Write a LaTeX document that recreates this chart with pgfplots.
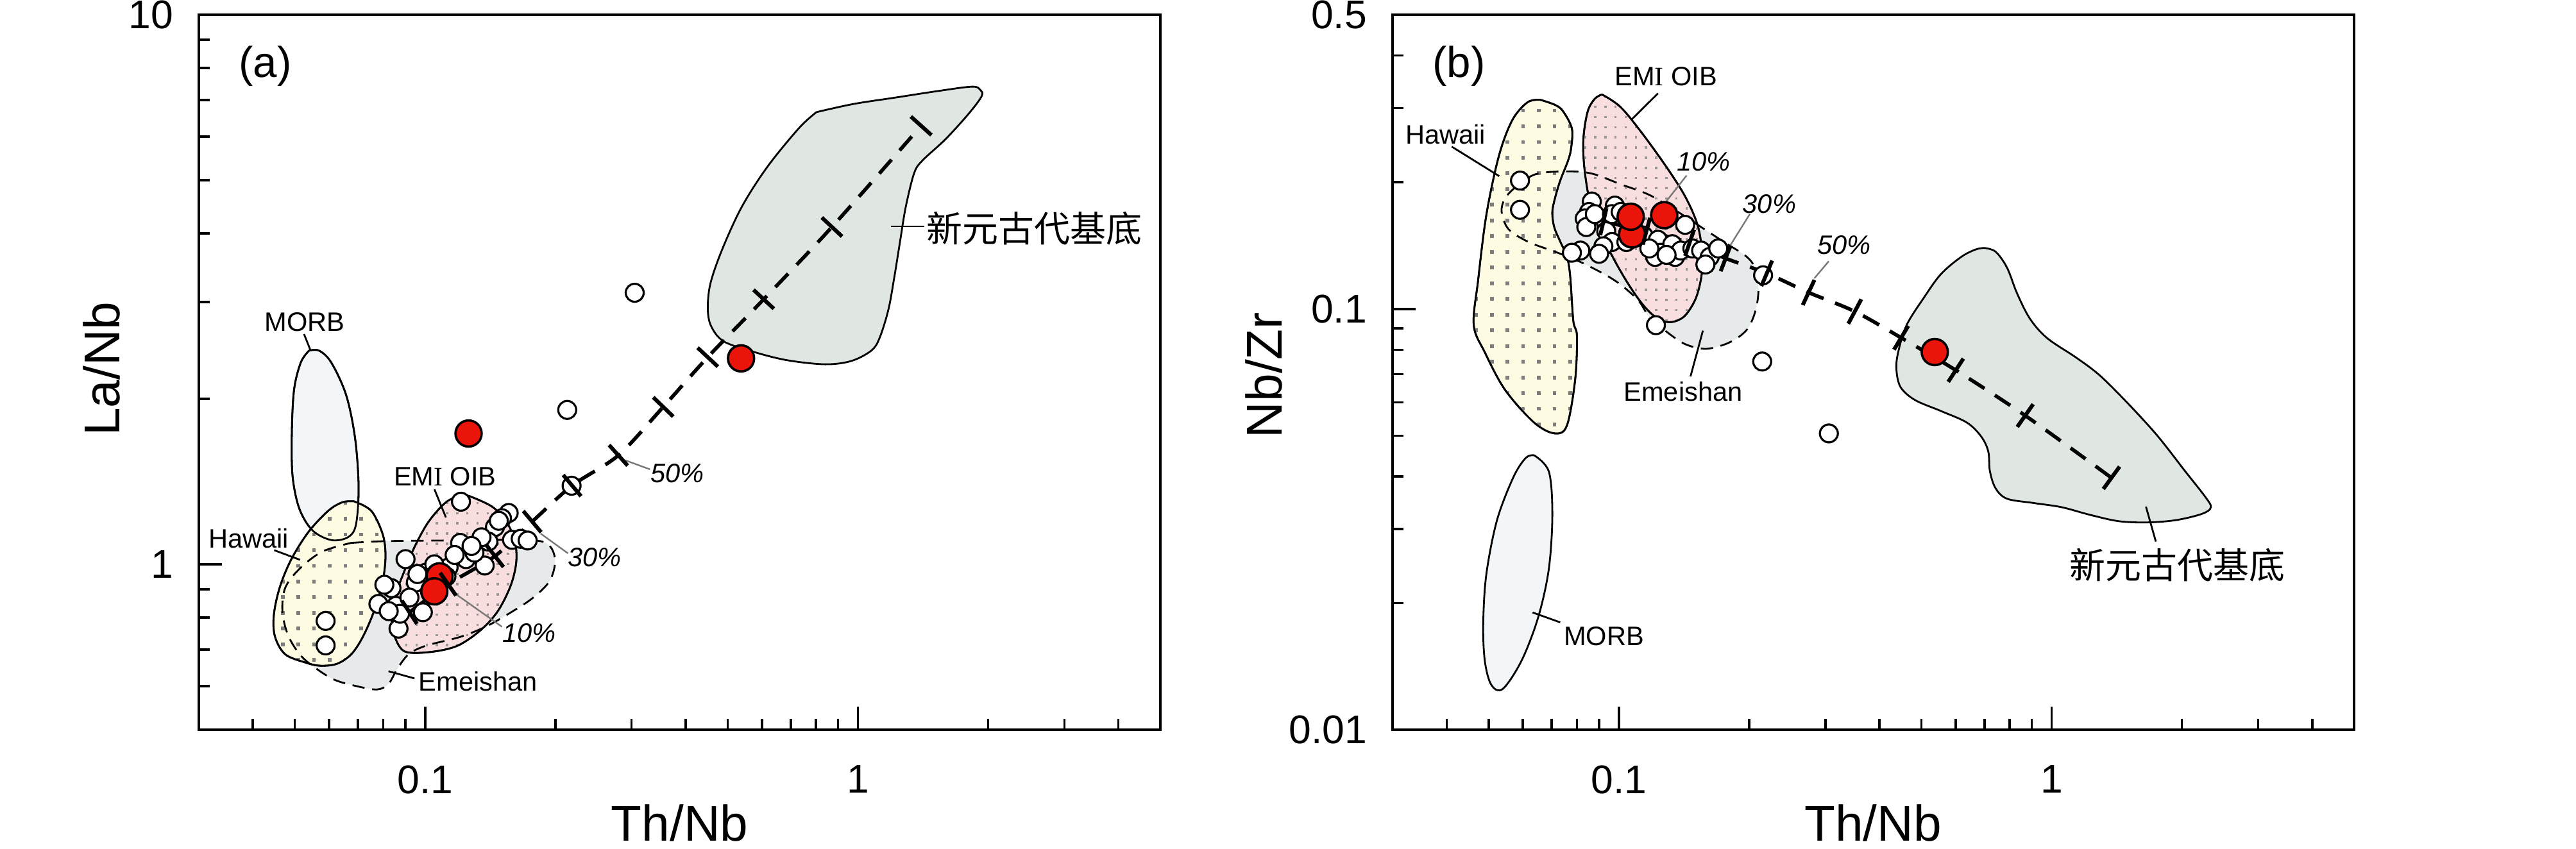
\documentclass[border=0pt]{standalone}
\usepackage{fontspec}
\setmainfont{Liberation Sans}
\newfontfamily\cjk{Noto Sans CJK SC}
\newfontfamily\serifI{Liberation Serif}
\usepackage{pgfplots}
\pgfplotsset{compat=1.18}
\usetikzlibrary{patterns}

\pgfdeclarepatternformonly{hawdots}{\pgfqpoint{-0.5pt}{-0.5pt}}{\pgfqpoint{0.5pt}{0.5pt}}{\pgfqpoint{3.06pt}{3.06pt}}{\pgfpathrectangle{\pgfqpoint{-0.36pt}{-0.36pt}}{\pgfqpoint{0.72pt}{0.72pt}}\pgfusepath{fill}}
\pgfdeclarepatternformonly{emidots}{\pgfqpoint{-0.5pt}{-0.5pt}}{\pgfqpoint{0.5pt}{0.5pt}}{\pgfqpoint{1.98pt}{1.98pt}}{\pgfpathrectangle{\pgfqpoint{-0.22pt}{-0.22pt}}{\pgfqpoint{0.44pt}{0.44pt}}\pgfusepath{fill}}

\definecolor{myred}{RGB}{235,20,10}
\definecolor{basefill}{RGB}{224,230,226}
\definecolor{emeifill}{RGB}{230,234,235}
\definecolor{morbfill}{RGB}{242,246,248}
\definecolor{hawfill}{RGB}{253,251,225}
\definecolor{emifill}{RGB}{248,222,222}
\definecolor{hawdot}{RGB}{125,125,125}
\definecolor{emidot}{RGB}{150,150,150}
\definecolor{leadgray}{RGB}{120,120,120}

\newcommand{\lab}{\fontsize{5.2}{6}\selectfont}
\newcommand{\pct}{\fontsize{5.2}{6}\selectfont\itshape}

\begin{document}
\begin{tikzpicture}
\path[use as bounding box] (0,0) rectangle (502pt,165.375pt);

% ---------------- (a) ----------------
\begin{axis}[at={(38.75pt,23.125pt)}, anchor=south west,
    scale only axis, width=187.375pt, height=139.375pt,
    xmode=log, ymode=log, xmin=0.03, xmax=5,
    clip=false,
    axis line style={line width=0.5pt},
    tick align=inside,
    major tick length=4.5pt, minor tick length=2.1pt,
    tick style={black, line width=0.45pt},
    xtick pos=left, ytick pos=left,
    xtick={0.1,1}, xticklabels={0.1,1},
    minor xtick={0.04,0.05,0.06,0.07,0.08,0.09,0.2,0.3,0.4,0.5,0.6,0.7,0.8,0.9,2,3,4},
    tick label style={font=\fontsize{7.8}{9}\selectfont},
    xticklabel shift=3.4pt, yticklabel shift=1.5pt,
  ymin=0.5, ymax=10, ytick={1,10}, yticklabels={1,10},
  minor ytick={0.6,0.7,0.8,0.9,2,3,4,5,6,7,8,9}]

% Emeishan fill
\addplot[smooth, tension=0.55, draw=none, fill=emeifill] coordinates {
(0.0675,1.094) (0.0811,1.102) (0.110,1.105) (0.1494,1.108) (0.1822,1.104) (0.1952,1.074) (0.1997,1.009) (0.1937,0.931) (0.1768,0.867) (0.1564,0.814) (0.1384,0.771) (0.1206,0.738) (0.1004,0.711) (0.0916,0.686) (0.0862,0.645) (0.0823,0.606) (0.0775,0.592) (0.0696,0.600) (0.0616,0.617) (0.0553,0.651) (0.0513,0.686) (0.0482,0.744) (0.0468,0.821) (0.0475,0.906) (0.0513,0.982) (0.0579,1.055) (0.0675,1.094)};
% MORB fill
\addplot[smooth, tension=0.55, draw=black, line width=0.35pt, fill=morbfill] coordinates {
(0.0539,2.448) (0.0516,2.329) (0.0498,2.080) (0.0492,1.735) (0.0494,1.447) (0.0512,1.263) (0.0549,1.153) (0.0607,1.107) (0.0663,1.120) (0.0692,1.180) (0.0702,1.383) (0.0689,1.696) (0.0657,2.032) (0.0607,2.329) (0.0569,2.448) (0.0539,2.448)};
% Hawaii
\addplot[smooth, tension=0.55, draw=black, line width=0.35pt, fill=hawfill, postaction={pattern=hawdots, pattern color=hawdot}] coordinates {
(0.0685,1.302) (0.0751,1.251) (0.0798,1.135) (0.0810,1.036) (0.0798,0.931) (0.0762,0.822) (0.0718,0.738) (0.0675,0.686) (0.0625,0.659) (0.0571,0.654) (0.0528,0.663) (0.0475,0.686) (0.0450,0.738) (0.0447,0.807) (0.0461,0.906) (0.0490,1.019) (0.0537,1.144) (0.0597,1.251) (0.0644,1.297) (0.0685,1.302)};
% EMI OIB
\addplot[smooth, tension=0.55, draw=black, line width=0.35pt, fill=emifill, postaction={pattern=emidots, pattern color=emidot}] coordinates {
(0.1263,1.332) (0.1427,1.274) (0.154,1.196) (0.1612,1.104) (0.1624,1.009) (0.1576,0.914) (0.1471,0.821) (0.1341,0.758) (0.1188,0.711) (0.1035,0.693) (0.0902,0.693) (0.0855,0.731) (0.0836,0.792) (0.0849,0.867) (0.0888,0.956) (0.0945,1.075) (0.1019,1.196) (0.1117,1.297) (0.1205,1.332) (0.1263,1.332)};
% MORB outline again
\addplot[smooth, tension=0.55, draw=black, line width=0.35pt] coordinates {
(0.0539,2.448) (0.0516,2.329) (0.0498,2.080) (0.0492,1.735) (0.0494,1.447) (0.0512,1.263) (0.0549,1.153) (0.0607,1.107) (0.0663,1.120) (0.0692,1.180) (0.0702,1.383) (0.0689,1.696) (0.0657,2.032) (0.0607,2.329) (0.0569,2.448) (0.0539,2.448)};
% Emeishan dashed outline
\addplot[smooth, tension=0.55, draw=black, line width=0.35pt, dash pattern=on 2.4pt off 1.5pt] coordinates {
(0.0675,1.094) (0.0811,1.102) (0.110,1.105) (0.1494,1.108) (0.1822,1.104) (0.1952,1.074) (0.1997,1.009) (0.1937,0.931) (0.1768,0.867) (0.1564,0.814) (0.1384,0.771) (0.1206,0.738) (0.1004,0.711) (0.0916,0.686) (0.0862,0.645) (0.0823,0.606) (0.0775,0.592) (0.0696,0.600) (0.0616,0.617) (0.0553,0.651) (0.0513,0.686) (0.0482,0.744) (0.0468,0.821) (0.0475,0.906) (0.0513,0.982) (0.0579,1.055) (0.0675,1.094)};
% Neoproterozoic basement
\addplot[smooth, tension=0.55, draw=black, line width=0.35pt, fill=basefill] coordinates {
(0.802,6.65) (0.975,6.88) (1.222,7.07) (1.521,7.26) (1.835,7.40) (1.919,7.30) (1.932,7.11) (1.804,6.61) (1.595,5.94) (1.410,5.43) (1.349,5.15) (1.290,4.47) (1.251,3.86) (1.213,3.32) (1.176,2.905) (1.122,2.58) (1.073,2.447) (0.965,2.344) (0.841,2.312) (0.690,2.35) (0.583,2.427) (0.4915,2.541) (0.459,2.703) (0.450,2.905) (0.456,3.236) (0.485,3.73) (0.539,4.47) (0.618,5.29) (0.731,6.22) (0.802,6.65)};

% samples
\addplot[only marks, mark=*, mark size=1.75pt, mark options={fill=white, draw=black, line width=0.4pt}] coordinates {
(0.305,3.12) (0.213,1.91) (0.218,1.39) (0.121,1.30) (0.0589,0.789) (0.0589,0.712)
(0.156,1.24) (0.1505,1.213) (0.145,1.169) (0.1588,1.108) (0.1663,1.113) (0.1726,1.105)
(0.1205,1.094) (0.1243,1.022) (0.1373,0.995) (0.0901,1.022) (0.0952,0.927) (0.0836,0.905)
(0.0805,0.918) (0.078,0.847) (0.0856,0.840) (0.0988,0.818) (0.0868,0.764) (0.1133,0.987)
(0.1005,0.966) (0.0875,0.813) (0.0824,0.822) (0.105,1.0) (0.13,1.05) (0.14,1.10)
(0.135,1.12) (0.092,0.87) (0.096,0.96) (0.117,1.04) (0.128,1.08) (0.148,1.20) (0.112,0.95)};
\addplot[only marks, mark=*, mark size=2.55pt, mark options={fill=myred, draw=black, line width=0.45pt}] coordinates {(0.537,2.37) (0.126,1.73) (0.108,0.951) (0.105,0.893)};

% mixing line
\addplot[black, line width=0.7pt, dash pattern=on 3.6pt off 2.4pt, smooth, tension=0.5] coordinates {
(0.092,0.818) (0.113,0.92) (0.145,1.035) (0.1768,1.196) (0.2186,1.391) (0.2796,1.579) (0.355,1.934) (0.4498,2.382) (0.6058,3.036) (0.871,4.11) (1.40,6.28)};
\addplot[scatter, only marks, mark=|, mark size=2.7pt,
    visualization depends on={value \thisrow{a}\as\ang},
    scatter/@pre marker code/.code={\pgfscope\pgftransformrotate{\ang}},
    scatter/@post marker code/.code={\endpgfscope},
    mark options={black, line width=0.75pt, solid}] table[x=x, y=y] {
x y a
0.092 0.818 33
0.113 0.92 35
0.145 1.035 38
0.1768 1.196 40
0.2186 1.391 40
0.2796 1.579 42
0.355 1.934 46
0.4498 2.382 47
0.6058 3.036 47
0.871 4.11 47
1.40 6.28 48
};

% leaders
\addplot[black, line width=0.35pt] coordinates {(0.0525,2.624) (0.0544,2.447)};
\addplot[black, line width=0.35pt] coordinates {(0.0448,1.061) (0.0514,1.019)};
\addplot[black, line width=0.35pt] coordinates {(0.1051,1.369) (0.1117,1.217)};
\addplot[black, line width=0.35pt] coordinates {(0.0823,0.639) (0.0945,0.620)};
\addplot[black, line width=0.35pt] coordinates {(1.193,4.12) (1.425,4.12)};
\addplot[leadgray, line width=0.3pt] coordinates {(0.1505,0.770) (0.1179,0.882)};
\addplot[leadgray, line width=0.3pt] coordinates {(0.2139,1.047) (0.1848,1.138)};
\addplot[leadgray, line width=0.3pt] coordinates {(0.3307,1.489) (0.2903,1.546)};

% labels
\node[font=\fontsize{8.4}{10}\selectfont] at (axis cs:0.0427,8.07) {(a)};
\node[font=\lab] at (axis cs:0.0527,2.761) {MORB};
\node[font=\lab] at (axis cs:0.0391,1.115) {Hawaii};
\node[font=\lab] at (axis cs:0.1112,1.446) {EM{\serifI I} OIB};
\node[font=\lab] at (axis cs:0.1326,0.612) {Emeishan};
\node[font=\fontsize{7}{8}\selectfont] at (axis cs:2.558,4.088) {\cjk 新元古代基底};
\node[font=\pct] at (axis cs:0.1738,0.750) {10\%};
\node[font=\pct] at (axis cs:0.2463,1.030) {30\%};
\node[font=\pct] at (axis cs:0.3824,1.465) {50\%};
\end{axis}

% ---------------- (b) ----------------
\begin{axis}[at={(271.375pt,23.125pt)}, anchor=south west,
    scale only axis, width=187.375pt, height=139.375pt,
    xmode=log, ymode=log, xmin=0.03, xmax=5,
    clip=false,
    axis line style={line width=0.5pt},
    tick align=inside,
    major tick length=4.5pt, minor tick length=2.1pt,
    tick style={black, line width=0.45pt},
    xtick pos=left, ytick pos=left,
    xtick={0.1,1}, xticklabels={0.1,1},
    minor xtick={0.04,0.05,0.06,0.07,0.08,0.09,0.2,0.3,0.4,0.5,0.6,0.7,0.8,0.9,2,3,4},
    tick label style={font=\fontsize{7.8}{9}\selectfont},
    xticklabel shift=3.4pt, yticklabel shift=1.5pt,
  ymin=0.01, ymax=0.5, ytick={0.01,0.1,0.5}, yticklabels={0.01,0.1,0.5},
  minor ytick={0.02,0.03,0.04,0.05,0.06,0.07,0.08,0.09,0.2,0.3,0.4}]

% Emeishan fill
\addplot[smooth, tension=0.55, draw=none, fill=emeifill] coordinates {
(0.0565,0.191) (0.0638,0.2085) (0.0755,0.2122) (0.0866,0.2097) (0.101,0.1978) (0.1176,0.1866) (0.137,0.170) (0.1549,0.1565) (0.175,0.1442) (0.1977,0.1329) (0.207,0.1239) (0.2102,0.1115) (0.207,0.0992) (0.1977,0.0893) (0.1804,0.0833) (0.1596,0.0804) (0.1434,0.0822) (0.1309,0.0872) (0.1176,0.0958) (0.1106,0.1051) (0.0979,0.1168) (0.0828,0.1283) (0.0722,0.136) (0.0619,0.1442) (0.0556,0.1547) (0.0536,0.170) (0.0544,0.1823) (0.0565,0.191)};
% Hawaii
\addplot[smooth, tension=0.55, draw=black, line width=0.35pt, fill=hawfill, postaction={pattern=hawdots, pattern color=hawdot}] coordinates {
(0.0658,0.3141) (0.0713,0.3052) (0.0744,0.2944) (0.0779,0.2682) (0.0776,0.2413) (0.0763,0.2249) (0.0733,0.2025) (0.0713,0.1844) (0.0702,0.170) (0.0709,0.1565) (0.0733,0.1442) (0.0759,0.1329) (0.0772,0.1196) (0.0785,0.0936) (0.080,0.0863) (0.0793,0.0681) (0.0759,0.0529) (0.0711,0.0506) (0.0637,0.0537) (0.0546,0.0642) (0.049,0.0789) (0.0462,0.0916) (0.0473,0.1171) (0.0494,0.167) (0.0528,0.2306) (0.0567,0.2807) (0.0615,0.3097) (0.0658,0.3141)};
% EMI OIB
\addplot[smooth, tension=0.55, draw=black, line width=0.35pt, fill=emifill, postaction={pattern=emidots, pattern color=emidot}] coordinates {
(0.0914,0.3233) (0.101,0.3015) (0.114,0.2589) (0.1309,0.2122) (0.1434,0.1823) (0.1525,0.1565) (0.156,0.1329) (0.1549,0.1182) (0.1501,0.1051) (0.1413,0.0958) (0.1309,0.093) (0.1213,0.0958) (0.1123,0.1039) (0.1025,0.1196) (0.0935,0.1425) (0.0866,0.1719) (0.0834,0.2122) (0.0828,0.2529) (0.0847,0.2944) (0.088,0.3158) (0.0914,0.3233)};
% Emeishan dashed outline
\addplot[smooth, tension=0.55, draw=black, line width=0.35pt, dash pattern=on 2.4pt off 1.5pt] coordinates {
(0.0565,0.191) (0.0638,0.2085) (0.0755,0.2122) (0.0866,0.2097) (0.101,0.1978) (0.1176,0.1866) (0.137,0.170) (0.1549,0.1565) (0.175,0.1442) (0.1977,0.1329) (0.207,0.1239) (0.2102,0.1115) (0.207,0.0992) (0.1977,0.0893) (0.1804,0.0833) (0.1596,0.0804) (0.1434,0.0822) (0.1309,0.0872) (0.1176,0.0958) (0.1106,0.1051) (0.0979,0.1168) (0.0828,0.1283) (0.0722,0.136) (0.0619,0.1442) (0.0556,0.1547) (0.0536,0.170) (0.0544,0.1823) (0.0565,0.191)};
% MORB
\addplot[smooth, tension=0.55, draw=black, line width=0.35pt, fill=morbfill] coordinates {
(0.0637,0.0449) (0.0689,0.0411) (0.0702,0.0325) (0.0689,0.0241) (0.0651,0.0185) (0.0596,0.0146) (0.0539,0.0125) (0.0507,0.0128) (0.049,0.0146) (0.0486,0.0179) (0.0494,0.0234) (0.0523,0.0315) (0.0571,0.0399) (0.061,0.0443) (0.0637,0.0449)};
% basement
\addplot[smooth, tension=0.55, draw=black, line width=0.35pt, fill=basefill] coordinates {
(0.698,0.1396) (0.742,0.1368) (0.789,0.1253) (0.832,0.1089) (0.8916,0.0947) (0.977,0.0852) (1.138,0.0767) (1.286,0.0698) (1.476,0.0607) (1.746,0.0503) (2.033,0.0412) (2.263,0.0358) (2.333,0.0338) (2.228,0.0326) (1.942,0.0315) (1.667,0.0311) (1.431,0.0313) (1.228,0.0324) (1.054,0.0338) (0.905,0.0346) (0.789,0.0354) (0.742,0.0375) (0.720,0.0412) (0.714,0.0458) (0.688,0.0497) (0.637,0.0537) (0.555,0.0572) (0.484,0.0607) (0.448,0.0651) (0.438,0.0715) (0.4415,0.0785) (0.462,0.0914) (0.507,0.1064) (0.555,0.121) (0.618,0.1329) (0.667,0.1384) (0.698,0.1396)};

% samples
\addplot[only marks, mark=*, mark size=1.75pt, mark options={fill=white, draw=black, line width=0.4pt}] coordinates {
(0.0591,0.2018) (0.0591,0.172) (0.1218,0.0915) (0.2154,0.1202) (0.2144,0.0750) (0.3057,0.0506)
(0.0866,0.180) (0.0853,0.170) (0.0834,0.164) (0.0841,0.1565) (0.088,0.168) (0.0979,0.176)
(0.0964,0.168) (0.101,0.170) (0.0935,0.153) (0.0964,0.1442) (0.0921,0.1409) (0.0815,0.1376)
(0.0779,0.136) (0.090,0.1352) (0.114,0.1494) (0.1231,0.146) (0.125,0.136) (0.1213,0.1329)
(0.1329,0.1425) (0.1349,0.1329) (0.139,0.1376) (0.1479,0.1392) (0.1549,0.1376) (0.1622,0.1329)
(0.1697,0.1392) (0.1585,0.1275) (0.1423,0.1584) (0.1176,0.1392) (0.1289,0.1344) (0.1041,0.1442)};
\addplot[only marks, mark=*, mark size=2.55pt, mark options={fill=myred, draw=black, line width=0.45pt}] coordinates {(0.1073,0.1503) (0.1065,0.1656) (0.1273,0.167) (0.537,0.0790)};

% mixing line
\addplot[black, line width=0.7pt, dash pattern=on 3.6pt off 2.4pt, smooth, tension=0.5] coordinates {
(0.0921,0.1612) (0.1158,0.1530) (0.1457,0.1436) (0.1765,0.1319) (0.2197,0.1215) (0.2744,0.1094) (0.3509,0.0986) (0.449,0.0854) (0.6006,0.0715) (0.869,0.0558) (1.375,0.0397)};
\addplot[scatter, only marks, mark=|, mark size=2.7pt,
    visualization depends on={value \thisrow{a}\as\ang},
    scatter/@pre marker code/.code={\pgfscope\pgftransformrotate{\ang}},
    scatter/@post marker code/.code={\endpgfscope},
    mark options={black, line width=0.75pt, solid}] table[x=x, y=y] {
x y a
0.0921 0.1612 -13
0.1158 0.1530 -15
0.1457 0.1436 -19
0.1765 0.1319 -21
0.2197 0.1215 -23
0.2744 0.1094 -25
0.3509 0.0986 -28
0.449 0.0854 -31
0.6006 0.0715 -33
0.869 0.0558 -35
1.375 0.0397 -36
};

% leaders
\addplot[black, line width=0.35pt] coordinates {(0.0411,0.243) (0.0529,0.2068)};
\addplot[black, line width=0.35pt] coordinates {(0.1231,0.3252) (0.1073,0.2827)};
\addplot[black, line width=0.35pt] coordinates {(0.1564,0.0888) (0.1464,0.0691)};
\addplot[black, line width=0.35pt] coordinates {(0.0632,0.0190) (0.0732,0.0180)};
\addplot[black, line width=0.35pt] coordinates {(1.652,0.0339) (1.741,0.028)};
\addplot[leadgray, line width=0.3pt] coordinates {(0.1434,0.2075) (0.1176,0.1602)};
\addplot[leadgray, line width=0.3pt] coordinates {(0.2007,0.168) (0.1804,0.1409)};
\addplot[leadgray, line width=0.3pt] coordinates {(0.3055,0.1298) (0.2829,0.1182)};

% labels
\node[font=\fontsize{8.4}{10}\selectfont] at (axis cs:0.0427,0.377) {(b)};
\node[font=\lab] at (axis cs:0.0398,0.2598) {Hawaii};
\node[font=\lab] at (axis cs:0.1284,0.3564) {EM{\serifI I} OIB};
\node[font=\lab] at (axis cs:0.1408,0.0636) {Emeishan};
\node[font=\lab] at (axis cs:0.0924,0.0167) {MORB};
\node[font=\fontsize{7}{8}\selectfont] at (axis cs:1.949,0.0246) {\cjk 新元古代基底};
\node[font=\pct] at (axis cs:0.1571,0.2234) {10\%};
\node[font=\pct] at (axis cs:0.2227,0.1778) {30\%};
\node[font=\pct] at (axis cs:0.3312,0.1420) {50\%};
\end{axis}

% axis titles
\node[anchor=base, font=\fontsize{9.8}{11}\selectfont] at (132.44pt,1.4pt) {Th/Nb};
\node[anchor=base, font=\fontsize{9.8}{11}\selectfont] at (365pt,1.4pt) {Th/Nb};
\node[anchor=base, rotate=90, font=\fontsize{9.8}{11}\selectfont] at (23.25pt,93.5pt) {La/Nb};
\node[anchor=base, rotate=90, font=\fontsize{9.8}{11}\selectfont] at (249.75pt,92.25pt) {Nb/Zr};
\end{tikzpicture}
\end{document}
